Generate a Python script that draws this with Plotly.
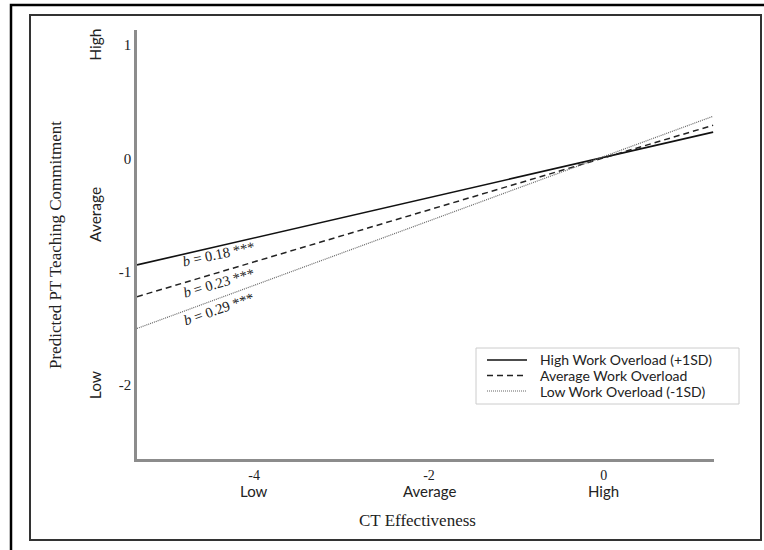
import numpy as np
import plotly.graph_objects as go

# ---- data ----
x_ends = [-5.34, 1.25]
high_wo = [-0.94, 0.23]
avg_wo = [-1.22, 0.29]
low_wo = [-1.50, 0.37]
series_names = ["High Work Overload (+1SD)", "Average Work Overload", "Low Work Overload (-1SD)"]
slope_labels = ["0.18", "0.23", "0.29"]
x_tickvals = [-4, -2, 0]
x_cat_labels = ["Low", "Average", "High"]
y_tickvals = [-2, -1, 0, 1]
y_cat_vals = [1, -0.5, -2]
y_cat_labels = ["High", "Average", "Low"]

W, H = 764, 550
L, R, T, B = 137, 50, 30, 91
PW, PH = W - L - R, H - T - B

def px(x):
    return (x - L) / PW

def py(y):
    return (H - B - y) / PH

SERIF = "Liberation Serif, Times New Roman, serif"
SANS = "Lato, Open Sans, sans-serif"

styles = [
    dict(color="#111111", width=1.6, dash="solid"),
    dict(color="#222222", width=1.5, dash="6px,4px"),
    dict(color="#666666", width=1.2, dash="1px,1px"),
]
ys = [high_wo, avg_wo, low_wo]

fig = go.Figure()
for name, yv, st in zip(series_names, ys, styles):
    fig.add_trace(go.Scatter(x=x_ends, y=yv, mode="lines", name=name,
                             line=st, showlegend=False, hoverinfo="skip"))

shapes = []
# outer frame
shapes.append(dict(type="rect", xref="paper", yref="paper",
                   x0=px(11), x1=px(800), y0=py(5), y1=py(600),
                   line=dict(color="#000000", width=2.5), fillcolor="rgba(0,0,0,0)"))
# inner frame
shapes.append(dict(type="rect", xref="paper", yref="paper",
                   x0=px(30), x1=px(761), y0=py(15), y1=py(540),
                   line=dict(color="#333333", width=2), fillcolor="rgba(0,0,0,0)"))

annotations = []
# slope labels
lab_x = -4.41
angles = [-12, -16, -19]
shifts = [-8, -10, -10]
for yv, lab, ang, sh in zip(ys, slope_labels, angles, shifts):
    yy = float(np.interp(lab_x, x_ends, yv))
    annotations.append(dict(x=lab_x, y=yy, xref="x", yref="y", showarrow=False,
                            xanchor="center", yanchor="middle",
                            text="<i>b</i> = " + lab + " ***", textangle=ang, yshift=sh,
                            font=dict(family=SERIF, size=14.5, color="#222222")))

# x category labels
for xv, t in zip(x_tickvals, x_cat_labels):
    annotations.append(dict(x=xv, y=py(491), xref="x", yref="paper", showarrow=False,
                            text=t, xanchor="center", yanchor="middle",
                            font=dict(family=SANS, size=15, color="#222222")))
# y category labels
for yv, t in zip(y_cat_vals, y_cat_labels):
    annotations.append(dict(x=px(95), y=yv, xref="paper", yref="y", showarrow=False,
                            text=t, textangle=-90, xanchor="center", yanchor="middle",
                            font=dict(family=SANS, size=15.5, color="#222222")))
# axis titles
annotations.append(dict(x=px(55), y=py(245), xref="paper", yref="paper", showarrow=False,
                        text="Predicted PT Teaching Commitment", textangle=-90,
                        xanchor="center", yanchor="middle",
                        font=dict(family=SERIF, size=17, color="#222222")))
annotations.append(dict(x=px(417), y=py(520), xref="paper", yref="paper", showarrow=False,
                        text="CT Effectiveness", xanchor="center", yanchor="middle",
                        font=dict(family=SERIF, size=17, color="#222222")))

# manual legend
shapes.append(dict(type="rect", xref="paper", yref="paper",
                   x0=px(476), x1=px(739), y0=py(348), y1=py(404),
                   line=dict(color="#cccccc", width=1), fillcolor="white"))
leg_y = [360, 375.5, 391]
for name, st, ly in zip(series_names, styles, leg_y):
    shapes.append(dict(type="line", xref="paper", yref="paper",
                       x0=px(487), x1=px(527), y0=py(ly), y1=py(ly), line=st))
    annotations.append(dict(x=px(538), y=py(ly), xref="paper", yref="paper", showarrow=False,
                            text=name, xanchor="left", yanchor="middle",
                            font=dict(family=SANS, size=14, color="#222222")))

fig.update_layout(
    width=W, height=H,
    margin=dict(l=L, r=R, t=T, b=B),
    paper_bgcolor="white", plot_bgcolor="white",
    shapes=shapes, annotations=annotations,
    xaxis=dict(range=[-5.34, 1.26], tickvals=x_tickvals, ticktext=[str(v) for v in x_tickvals],
               showgrid=False, zeroline=False, showline=True, linecolor="#8c8c8c", linewidth=2.5,
               ticks="", ticklabelstandoff=1, tickfont=dict(family=SERIF, size=14, color="#222222")),
    yaxis=dict(range=[-2.65, 1.13], tickvals=y_tickvals, ticktext=[str(v) for v in y_tickvals],
               showgrid=False, zeroline=False, showline=True, linecolor="#8c8c8c", linewidth=2.5,
               ticks="", tickfont=dict(family=SERIF, size=15, color="#222222")),
)

fig.write_html("out.html", config={"displayModeBar": False},
               post_script="document.body.style.margin='0';")
